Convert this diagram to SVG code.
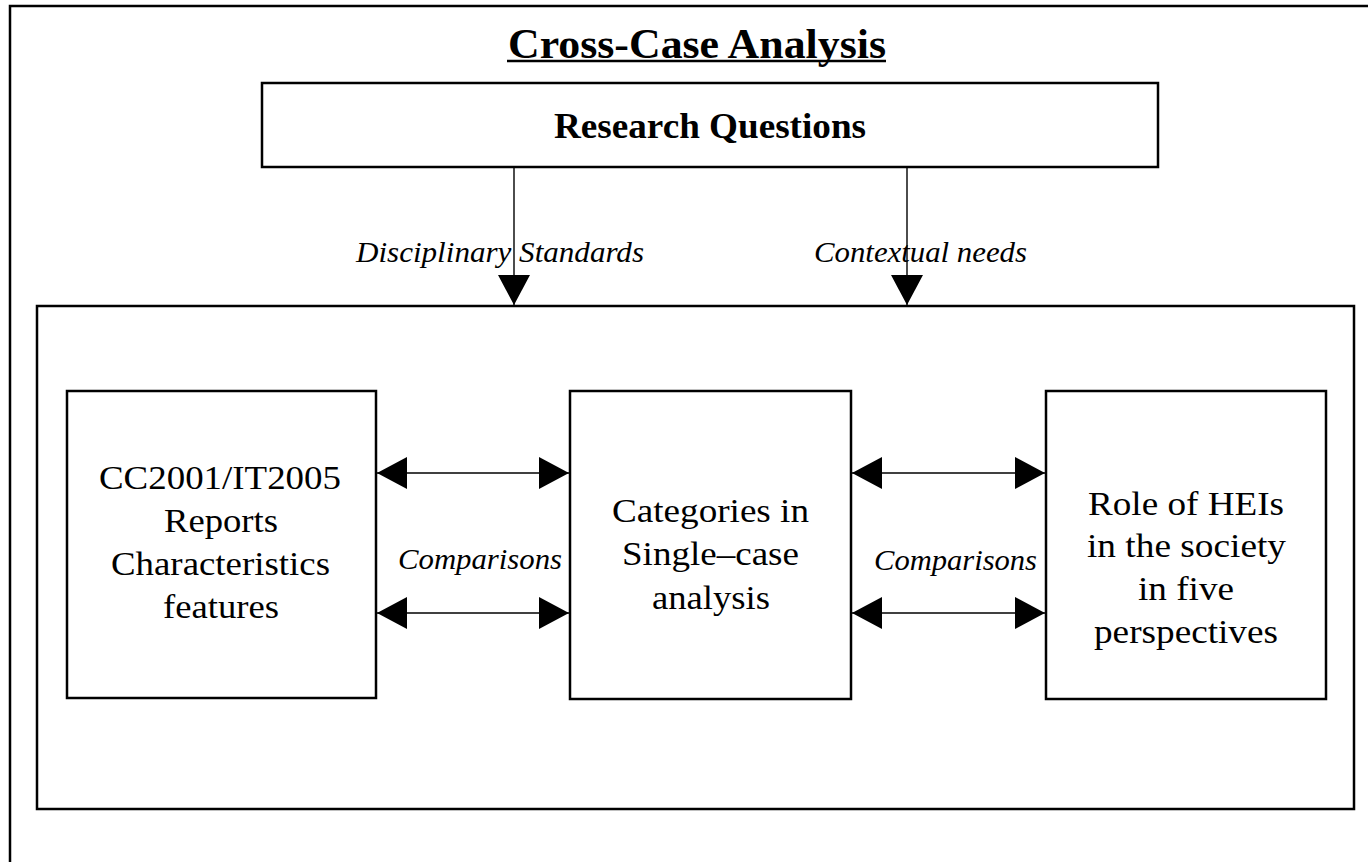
<svg xmlns="http://www.w3.org/2000/svg" width="1368" height="862" viewBox="0 0 1368 862">
<style>
.box{fill:none;stroke:#000;stroke-width:2.5}
.con{fill:none;stroke:#000;stroke-width:1.4}
.t{font-family:"Times New Roman","Liberation Serif",Tinos,"Nimbus Roman",serif;fill:#000}
.title{font-size:43px;font-weight:bold}
.hd{font-size:36px;font-weight:bold}
.it{font-size:29px;font-style:italic}
.bx{font-size:34px}
</style>
<defs>
<marker id="ah" markerUnits="userSpaceOnUse" markerWidth="32" markerHeight="34" refX="30" refY="17" orient="auto-start-reverse" viewBox="0 0 32 34">
<path d="M0,1 L30,17 L0,33 z" fill="#000"/>
</marker>
</defs>
<rect width="1368" height="862" fill="#fff"/>
<rect class="box" x="10" y="6" width="1400" height="900"/>
<g id="title">
<text class="t title" x="508" y="58" textLength="378" lengthAdjust="spacingAndGlyphs">Cross-Case Analysis</text>
<line x1="507" y1="61" x2="886" y2="61" stroke="#000" stroke-width="2.5"/>
</g>
<g id="research-questions">
<rect class="box" x="262" y="83" width="896" height="84"/>
<text class="t hd" x="554" y="138" textLength="312" lengthAdjust="spacingAndGlyphs">Research Questions</text>
</g>
<g id="container">
<rect class="box" x="37" y="306" width="1317" height="503"/>
</g>
<g id="cc2001">
<rect class="box" x="67" y="391" width="309" height="307"/>
<text class="t bx" x="99" y="489" textLength="242" lengthAdjust="spacingAndGlyphs">CC2001/IT2005</text>
<text class="t bx" x="164" y="532" textLength="114" lengthAdjust="spacingAndGlyphs">Reports</text>
<text class="t bx" x="111" y="575" textLength="219" lengthAdjust="spacingAndGlyphs">Characteristics</text>
<text class="t bx" x="163" y="618" textLength="116" lengthAdjust="spacingAndGlyphs">features</text>
</g>
<g id="categories">
<rect class="box" x="570" y="391" width="281" height="308"/>
<text class="t bx" x="612" y="522" textLength="197" lengthAdjust="spacingAndGlyphs">Categories in</text>
<text class="t bx" x="622" y="565" textLength="177" lengthAdjust="spacingAndGlyphs">Single–case</text>
<text class="t bx" x="652" y="609" textLength="118" lengthAdjust="spacingAndGlyphs">analysis</text>
</g>
<g id="role-heis">
<rect class="box" x="1046" y="391" width="280" height="308"/>
<text class="t bx" x="1088" y="515" textLength="196" lengthAdjust="spacingAndGlyphs">Role of HEIs</text>
<text class="t bx" x="1087" y="557" textLength="199" lengthAdjust="spacingAndGlyphs">in the society</text>
<text class="t bx" x="1138" y="600" textLength="96" lengthAdjust="spacingAndGlyphs">in five</text>
<text class="t bx" x="1094" y="643" textLength="184" lengthAdjust="spacingAndGlyphs">perspectives</text>
</g>
<g id="labels">
<text class="t it" x="356" y="262" textLength="288" lengthAdjust="spacingAndGlyphs">Disciplinary Standards</text>
<text class="t it" x="814" y="262" textLength="213" lengthAdjust="spacingAndGlyphs">Contextual needs</text>
<text class="t it" x="398" y="569" textLength="164" lengthAdjust="spacingAndGlyphs">Comparisons</text>
<text class="t it" x="874" y="570" textLength="163" lengthAdjust="spacingAndGlyphs">Comparisons</text>
</g>
<g id="connectors">
<line class="con" x1="514" y1="167" x2="514" y2="305" marker-end="url(#ah)"/>
<line class="con" x1="907" y1="167" x2="907" y2="305" marker-end="url(#ah)"/>
<line class="con" x1="377" y1="473" x2="569" y2="473" marker-start="url(#ah)" marker-end="url(#ah)"/>
<line class="con" x1="377" y1="613" x2="569" y2="613" marker-start="url(#ah)" marker-end="url(#ah)"/>
<line class="con" x1="852" y1="473" x2="1045" y2="473" marker-start="url(#ah)" marker-end="url(#ah)"/>
<line class="con" x1="852" y1="613" x2="1045" y2="613" marker-start="url(#ah)" marker-end="url(#ah)"/>
</g>
</svg>
